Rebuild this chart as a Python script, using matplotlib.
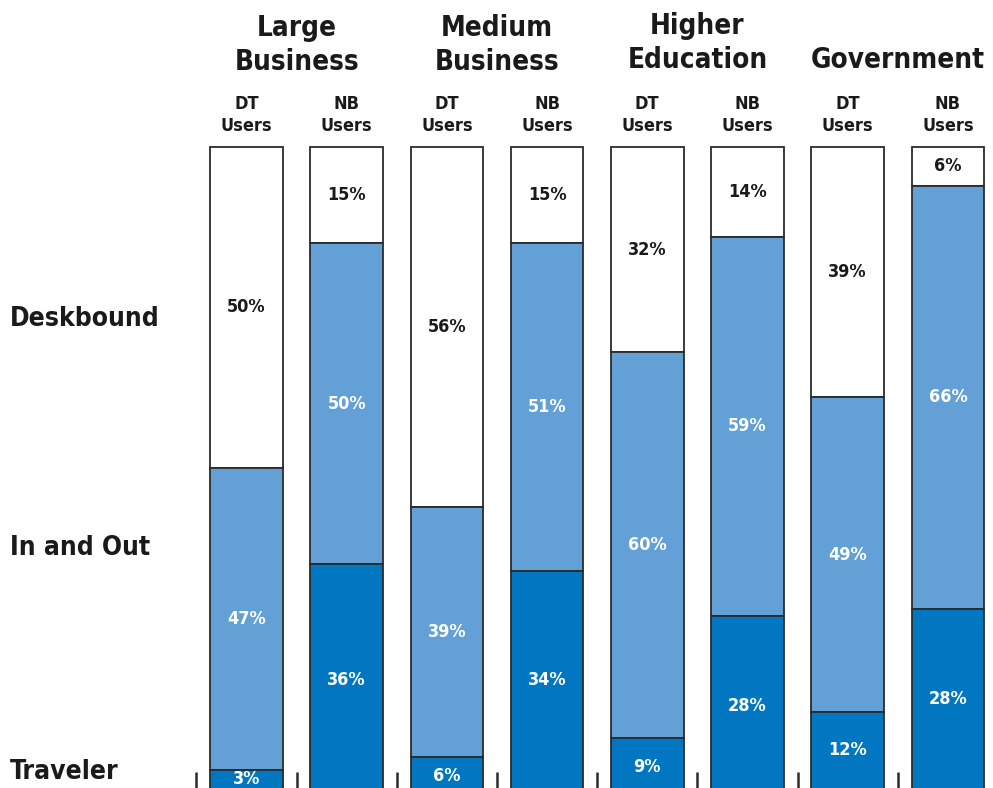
import matplotlib
matplotlib.use('Agg')
import matplotlib.pyplot as plt
from matplotlib import font_manager
import numpy as np

# 各行业 DT / NB 用户的工作方式占比（%）
groups = ['Large\nBusiness', 'Medium\nBusiness', 'Higher\nEducation', 'Government']
users = ['DT\nUsers', 'NB\nUsers']
rows = ['Deskbound', 'In and Out', 'Traveler']
deskbound = [50, 15, 56, 15, 32, 14, 39, 6]
in_and_out = [47, 50, 39, 51, 60, 59, 49, 66]
traveler = [3, 36, 6, 34, 9, 28, 12, 28]

# 选字体：优先窄体
names = set(f.name for f in font_manager.fontManager.ttflist)
if 'Liberation Sans Narrow' in names:
    font = 'Liberation Sans Narrow'
    stretch = 'normal'
else:
    font = 'DejaVu Sans'
    stretch = 'condensed'
plt.rcParams['font.family'] = [font, 'DejaVu Sans']

W, H = 993, 788
fig = plt.figure(figsize=(W / 100, H / 100), dpi=100)
ax = fig.add_axes([0, 0, 1, 1])
ax.axis('off')

# 横向：每根柱子间距 100.2 像素；纵向：1% = 6.42 像素，从顶部往下画
x0, dx = 246.5, 100.2
top, unit = 147, 6.42
ax.set_xlim(-x0 / dx, (W - x0) / dx)
ax.set_ylim((H - top) / unit, -top / unit)

x = np.arange(len(deskbound))
d = np.array(deskbound)
m = np.array(in_and_out)
t = np.array(traveler)
dark = '#0077c0'
light = '#62a0d6'
edge = '#2b2b2b'
kw = dict(width=0.725, edgecolor=edge, linewidth=1.3)
ax.bar(x, d, bottom=0, color='white', **kw)
ax.bar(x, m, bottom=d, color=light, **kw)
ax.bar(x, t, bottom=d + m, color=dark, **kw)

fs = 13
for i in range(len(x)):
    ax.text(x[i], d[i] / 2, f'{d[i]}%', ha='center', va='center', fontsize=fs,
            fontweight='bold', color='#1a1a1a', fontstretch=stretch)
    ax.text(x[i], d[i] + m[i] / 2, f'{m[i]}%', ha='center', va='center', fontsize=fs,
            fontweight='bold', color='white', fontstretch=stretch)
    ax.text(x[i], d[i] + m[i] + t[i] / 2, f'{t[i]}%', ha='center', va='center',
            fontsize=fs, fontweight='bold', color='white', fontstretch=stretch)

# 底部小刻度
ax.vlines(x - 0.5, (772 - top) / unit, (H - top) / unit, color=edge, linewidth=1.8)

# 标题
head_y = [45, 45, 43, 60]
for g in range(len(groups)):
    ax.text(2 * g + 0.5, (head_y[g] - top) / unit, groups[g], ha='center', va='center',
            fontsize=20, fontweight='bold', color='#1a1a1a', linespacing=1.3,
            fontstretch=stretch)
for i in range(len(x)):
    ax.text(x[i], (115 - top) / unit, users[i % 2], ha='center', va='center',
            fontsize=13, fontweight='bold', color='#1a1a1a', linespacing=1.3,
            fontstretch=stretch)

# 左侧行标签
row_y = [319, 548, 772]
for r in range(len(rows)):
    fig.text(10 / W, 1 - row_y[r] / H, rows[r], ha='left', va='center', fontsize=19,
             fontweight='bold', color='#1a1a1a', fontstretch=stretch)

fig.savefig('out.png', dpi=100)
